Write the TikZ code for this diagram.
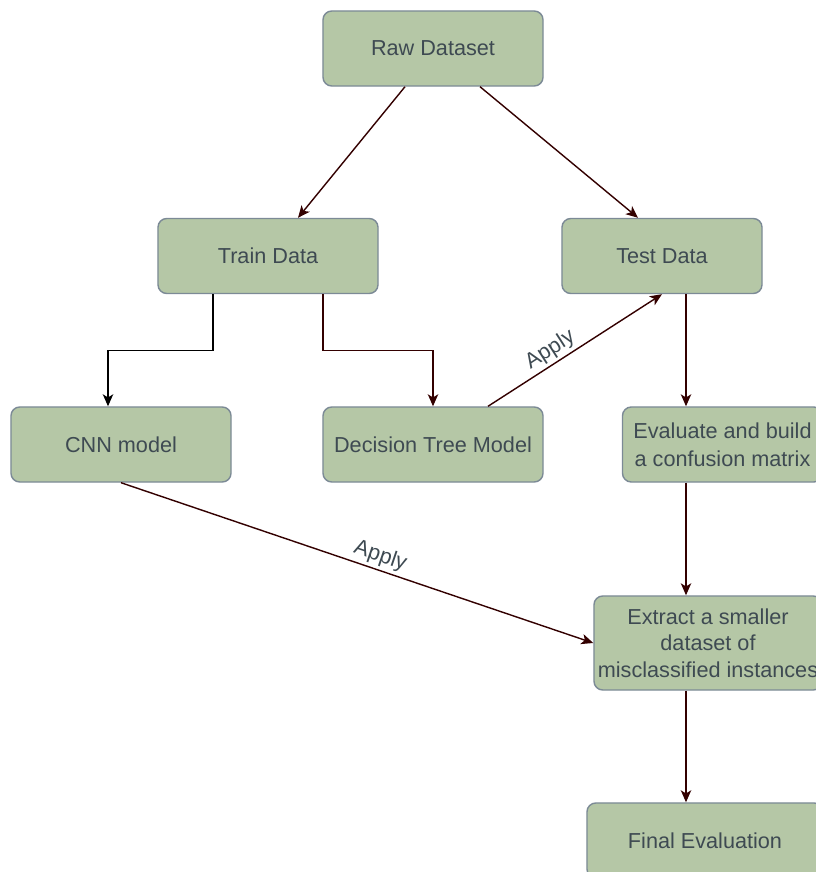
\documentclass[tikz,border=0pt]{standalone}
\usepackage{fontspec}
\setmainfont{Liberation Sans}
\usetikzlibrary{positioning, arrows.meta, calc}
\definecolor{boxfill}{HTML}{B5C7A6}
\definecolor{boxline}{HTML}{7C8A96}
\definecolor{boxtext}{HTML}{3E4A52}
\definecolor{linkred}{HTML}{330000}

\begin{document}
\begin{tikzpicture}[x=0.025cm, y=-0.025cm,
    every node/.style={font=\fontsize{15.4}{20}\selectfont, text=boxtext},
    box/.style={draw=boxline, line width=1pt, fill=boxfill, rounded corners=2.2mm,
                minimum width=#1, minimum height=1.875cm, align=center, inner sep=1pt},
    box/.default=5.5cm,
    link/.style={draw=linkred, line width=1pt, -{Stealth[length=3mm, width=2.6mm, inset=0.8mm]}},
    tag/.style={sloped, above, inner sep=2pt},
]
\useasboundingbox (0,0) rectangle (815,872);

% Top row
\node[box] (raw) at (433,48.5) {Raw Dataset};

% Split into train and test
\node[box] (train) at (268,256) {Train Data};
\node[box=5cm] (test) at (662,256) {Test Data};

% Models
\node[box] (cnn) at (121,444.5) {CNN model};
\node[box] (dtree) at (433,444.5) {Decision Tree Model};

% Right column
\node[box=5cm] (eval) at (722.5,444.5) {Evaluate and build\\a confusion matrix};
\node[box=5.7cm, minimum height=2.35cm] (extract) at (708,643)
    {Extract a smaller\\[-1pt]dataset of\\[-1pt]misclassified instances};
\node[box=5.9cm] (final) at (705,840.5) {Final Evaluation};

% Vertical spine for the right column
\coordinate (spine) at (686,0);

% Raw dataset split
\draw[link] ([xshift=-0.7cm]raw.south) -- ([xshift=0.75cm]train.north);
\draw[link] ([xshift=1.175cm]raw.south) -- ([xshift=-0.6cm]test.north);

% Train data to the two models
\draw[link, draw=black] ([xshift=-1.375cm]train.south) -- ++(0,56.5) -| ([xshift=-0.325cm]cnn.north);
\draw[link] ([xshift=1.375cm]train.south) -- ++(0,56.5) -| (dtree.north);

% Apply the models
\draw[link] ([xshift=1.375cm]dtree.north) -- node[tag, pos=0.4] {Apply} (test.south);
\draw[link] (cnn.south) -- node[tag, pos=0.54] {Apply} (extract.west);

% Right column chain
\draw[link] (test.south -| spine) -- (eval.north -| spine);
\draw[link] (eval.south -| spine) -- (extract.north -| spine);
\draw[link] (extract.south -| spine) -- (final.north -| spine);

\end{tikzpicture}
\end{document}
